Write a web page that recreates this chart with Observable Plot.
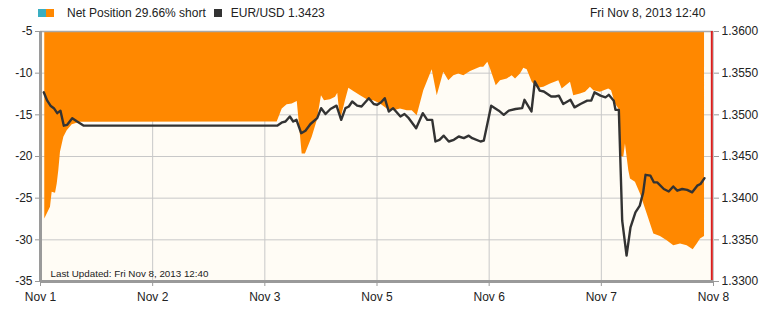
<!DOCTYPE html>
<html>
<head>
<meta charset="utf-8">
<script src="https://cdn.jsdelivr.net/npm/d3@7"></script>
<script src="https://cdn.jsdelivr.net/npm/@observablehq/plot@0.6"></script>
<style>
  html, body { margin: 0; padding: 0; background: #fff; }
  #wrap { position: relative; width: 773px; height: 314px; font-family: "Liberation Sans", Arial, sans-serif; color: #222; }
  #legend { position: absolute; left: 38px; top: 6px; font-size: 12px; display: flex; align-items: center; white-space: nowrap; }
  .sw { display: inline-block; width: 8px; height: 8px; }
  #stamp { position: absolute; left: 590px; top: 6px; font-size: 12px; white-space: nowrap; }
  svg { position: absolute; left: 0; top: 0; }
</style>
</head>
<body>
<div id="wrap">
  <div id="chart"></div>
  <div id="legend">
    <span class="sw" style="background:#3aaec2"></span><span class="sw" style="background:#ff8800"></span>
    <span style="margin-left:13px">Net Position 29.66% short</span>
    <span class="sw" style="background:#333;margin-left:8px"></span>
    <span style="margin-left:9px">EUR/USD 1.3423</span>
  </div>
  <div id="stamp">Fri Nov 8, 2013 12:40</div>
</div>
<script>
// x positions in "day slots" (0 = Nov 1 ... 6 = Nov 8)
const dayLabels = ["Nov 1", "Nov 2", "Nov 3", "Nov 5", "Nov 6", "Nov 7", "Nov 8"];
const leftTicks = [-35, -30, -25, -20, -15, -10, -5];
const priceTicks = [1.33, 1.335, 1.34, 1.345, 1.35, 1.355, 1.36];
const nowMarker = 5.985;

const netX = [0.038,0.089,0.104,0.134,0.149,0.163,0.178,0.208,0.238,0.283,0.357,2.110,2.155,2.199,2.244,2.289,2.333,2.362,2.422,2.467,2.505,2.532,2.585,2.630,2.650,2.675,2.719,2.749,2.793,2.853,2.913,2.971,3.031,3.091,3.150,3.209,3.269,3.314,3.358,3.417,3.492,3.537,3.595,3.640,3.685,3.729,3.774,3.834,3.923,3.952,3.988,4.012,4.063,4.101,4.161,4.205,4.235,4.279,4.309,4.339,4.384,4.431,4.487,4.547,4.621,4.651,4.725,4.754,4.814,4.859,4.903,4.933,4.992,5.066,5.091,5.126,5.156,5.180,5.200,5.215,5.245,5.260,5.304,5.349,5.409,5.468,5.527,5.587,5.646,5.706,5.765,5.819,5.855,5.884,5.920];
const netV = [-27.5,-26.1,-24.3,-24.4,-23.3,-21.7,-19.5,-17.7,-16.9,-16.2,-15.9,-15.85,-14.3,-13.8,-13.7,-13.4,-19.7,-19.7,-17.7,-15.7,-12.7,-13.3,-13.2,-12.9,-12.4,-15.7,-13.3,-11.8,-12.2,-12.7,-13.2,-13.3,-13.7,-14.3,-14.5,-14.3,-14.5,-14.5,-15.1,-12.1,-9.6,-12.7,-9.9,-10.9,-10.3,-10.1,-10.3,-9.8,-9.3,-9.3,-8.7,-9.5,-11.5,-10.9,-10.7,-10.3,-10.7,-10.1,-9.4,-9.6,-11.1,-11.8,-11.7,-11.3,-10.9,-11.9,-11.1,-12.7,-12.5,-12.3,-11.7,-12.1,-12.3,-11.9,-12.1,-13.7,-14.3,-20.0,-20.1,-18.5,-21.7,-22.7,-23.1,-24.5,-26.9,-29.3,-29.6,-30.1,-30.7,-30.5,-30.7,-31.2,-30.5,-29.9,-29.6];

const eurX = [0.029,0.060,0.089,0.119,0.149,0.178,0.208,0.238,0.283,0.327,0.386,2.110,2.155,2.184,2.223,2.253,2.282,2.324,2.362,2.407,2.467,2.502,2.541,2.585,2.639,2.681,2.719,2.749,2.779,2.823,2.862,2.927,2.971,3.002,3.037,3.069,3.105,3.144,3.209,3.245,3.283,3.349,3.408,3.448,3.492,3.521,3.557,3.595,3.640,3.685,3.729,3.774,3.818,3.849,3.923,3.952,4.018,4.086,4.130,4.175,4.235,4.294,4.315,4.377,4.407,4.451,4.487,4.553,4.591,4.621,4.660,4.725,4.761,4.814,4.874,4.910,4.939,4.992,5.037,5.066,5.111,5.126,5.156,5.186,5.225,5.260,5.304,5.343,5.373,5.394,5.438,5.468,5.498,5.557,5.601,5.641,5.677,5.721,5.765,5.810,5.855,5.884,5.920];
const eurP = [1.3527,1.3517,1.3511,1.3508,1.3502,1.3505,1.3487,1.3488,1.3496,1.3492,1.3487,1.3487,1.3491,1.3492,1.3498,1.3492,1.3494,1.3478,1.3481,1.3489,1.3496,1.3508,1.3501,1.3507,1.3511,1.3494,1.3508,1.3510,1.3516,1.3511,1.3510,1.3520,1.3513,1.3512,1.3515,1.3520,1.3504,1.3508,1.3498,1.3501,1.3496,1.3484,1.3502,1.3494,1.3494,1.3468,1.3470,1.3475,1.3468,1.3470,1.3474,1.3472,1.3475,1.3472,1.3468,1.3469,1.3511,1.3505,1.3500,1.3505,1.3507,1.3508,1.3518,1.3504,1.3540,1.3529,1.3528,1.3522,1.3522,1.3523,1.3513,1.3518,1.3509,1.3513,1.3517,1.3517,1.3527,1.3523,1.3521,1.3524,1.3517,1.3506,1.3506,1.3373,1.3331,1.3365,1.3383,1.3391,1.3407,1.3428,1.3427,1.3419,1.3419,1.3411,1.3408,1.3414,1.3409,1.3411,1.3410,1.3407,1.3415,1.3417,1.3424];

// the right (price) axis shares the left axis' pixel range
const yDomain = [leftTicks[0], leftTicks[leftTicks.length - 1]];
const pDomain = [priceTicks[0], priceTicks[priceTicks.length - 1]];
const toLeft = p => yDomain[0] + (p - pDomain[0]) / (pDomain[1] - pDomain[0]) * (yDomain[1] - yDomain[0]);

const net = netX.map((x, i) => ({x, v: netV[i]}));
const eur = eurX.map((x, i) => ({x, y: toLeft(eurP[i])}));
const dayIdx = dayLabels.map((_, i) => i);

const font = {fontFamily: "'Liberation Sans', Arial, sans-serif", fontSize: "12px", color: "#222"};

const chart = Plot.plot({
  width: 773,
  height: 314,
  marginTop: 31,
  marginBottom: 33,
  marginLeft: 40,
  marginRight: 60,
  style: {...font, background: "transparent", overflow: "visible"},
  x: {domain: [0, dayLabels.length - 1], label: null},
  y: {domain: yDomain, label: null},
  marks: [
    Plot.frame({fill: "#fffcf5", stroke: null}),
    Plot.gridY(leftTicks, {stroke: "#c8c8c8", strokeOpacity: 1, strokeWidth: 1}),
    Plot.gridX(dayIdx, {stroke: "#c8c8c8", strokeOpacity: 1, strokeWidth: 1}),
    Plot.areaY(net, {x: "x", y1: yDomain[1], y2: "v", fill: "#ff8800"}),
    Plot.line(eur, {x: "x", y: "y", stroke: "#333", strokeWidth: 2.4, strokeLinejoin: "round"}),
    Plot.ruleY([yDomain[1]], {stroke: "#a8a8a8", strokeWidth: 1.5}),
    Plot.ruleX([nowMarker], {stroke: "#d81e1e", strokeWidth: 2}),
    Plot.ruleX([0], {stroke: "#9a9a9a", strokeWidth: 3}),
    Plot.ruleY([yDomain[0]], {stroke: "#9a9a9a", strokeWidth: 3}),
    Plot.axisY(leftTicks, {anchor: "left", label: null, tickSize: 5, tickPadding: 3, stroke: "#999", tickFormat: d => String(d), fontSize: 12}),
    Plot.axisY(priceTicks.map(toLeft), {anchor: "right", label: null, tickSize: 5, tickPadding: 3, stroke: "#999", tickFormat: (d, i) => priceTicks[i].toFixed(4), fontSize: 12}),
    Plot.axisX(dayIdx, {anchor: "bottom", label: null, tickSize: 5, tickPadding: 6, stroke: "#999", tickFormat: (d, i) => dayLabels[i], fontSize: 12}),
    Plot.text(["Last Updated: Fri Nov 8, 2013 12:40"], {frameAnchor: "bottom-left", dx: 10, dy: -5, fontSize: 9.8, fill: "#222", textAnchor: "start"})
  ]
});
document.getElementById("chart").appendChild(chart);
</script>
</body>
</html>
